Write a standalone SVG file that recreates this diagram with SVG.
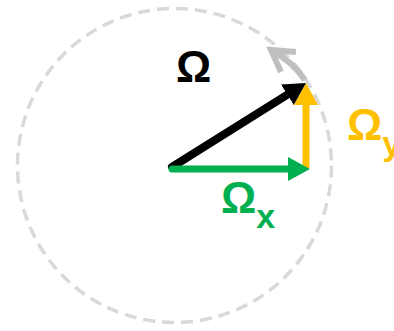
<svg xmlns="http://www.w3.org/2000/svg" width="394" height="331" viewBox="0 0 394 331">
<style>
.lbl{font-family:"Liberation Sans",Arial,sans-serif;font-weight:bold;}
.big{font-size:44px;}
.sub{font-size:34px;}
</style>
<defs>
<marker id="hk" markerUnits="userSpaceOnUse" viewBox="0 0 22 24" markerWidth="22" markerHeight="24" refX="10" refY="12" orient="auto"><path d="M0,0 L22,12 L0,24 Z" fill="#000"/></marker>
<marker id="hg" markerUnits="userSpaceOnUse" viewBox="0 0 22 24" markerWidth="22" markerHeight="24" refX="10" refY="12" orient="auto"><path d="M0,0 L22,12 L0,24 Z" fill="#00B050"/></marker>
<marker id="hy" markerUnits="userSpaceOnUse" viewBox="0 0 22 24" markerWidth="22" markerHeight="24" refX="10" refY="12" orient="auto"><path d="M0,0 L22,12 L0,24 Z" fill="#FFC000"/></marker>
</defs>
<g id="circle">
<circle cx="174.5" cy="165.5" r="157" fill="none" stroke="#D9D9D9" stroke-width="3.5" stroke-dasharray="12 7"/>
</g>
<g id="connectors">
<path id="rotation" d="M305,80 Q292,61 272,51" fill="none" stroke="#BFBFBF" stroke-width="6"/>
<path d="M296,52 L271,50 L281,72" fill="none" stroke="#BFBFBF" stroke-width="6" stroke-linejoin="miter" stroke-linecap="butt"/>
<line x1="306" y1="168" x2="306" y2="95" stroke="#FFC000" stroke-width="7" marker-end="url(#hy)"/>
<line x1="172" y1="167" x2="295.8" y2="89.4" stroke="#000" stroke-width="8" stroke-linecap="round" marker-end="url(#hk)"/>
<line x1="172" y1="169" x2="298" y2="169" stroke="#00B050" stroke-width="7" stroke-linecap="round" marker-end="url(#hg)"/>
</g>
<g id="label-omega">
<text class="lbl big" x="176" y="81.5" fill="#000">Ω</text>
</g>
<g id="label-omega-x">
<text class="lbl big" x="221" y="213" fill="#00B050">Ω<tspan class="sub" dy="14.5">x</tspan></text>
</g>
<g id="label-omega-y">
<text class="lbl big" x="347" y="140" fill="#FFC000">Ω<tspan class="sub" dy="14.5">y</tspan></text>
</g>
</svg>
